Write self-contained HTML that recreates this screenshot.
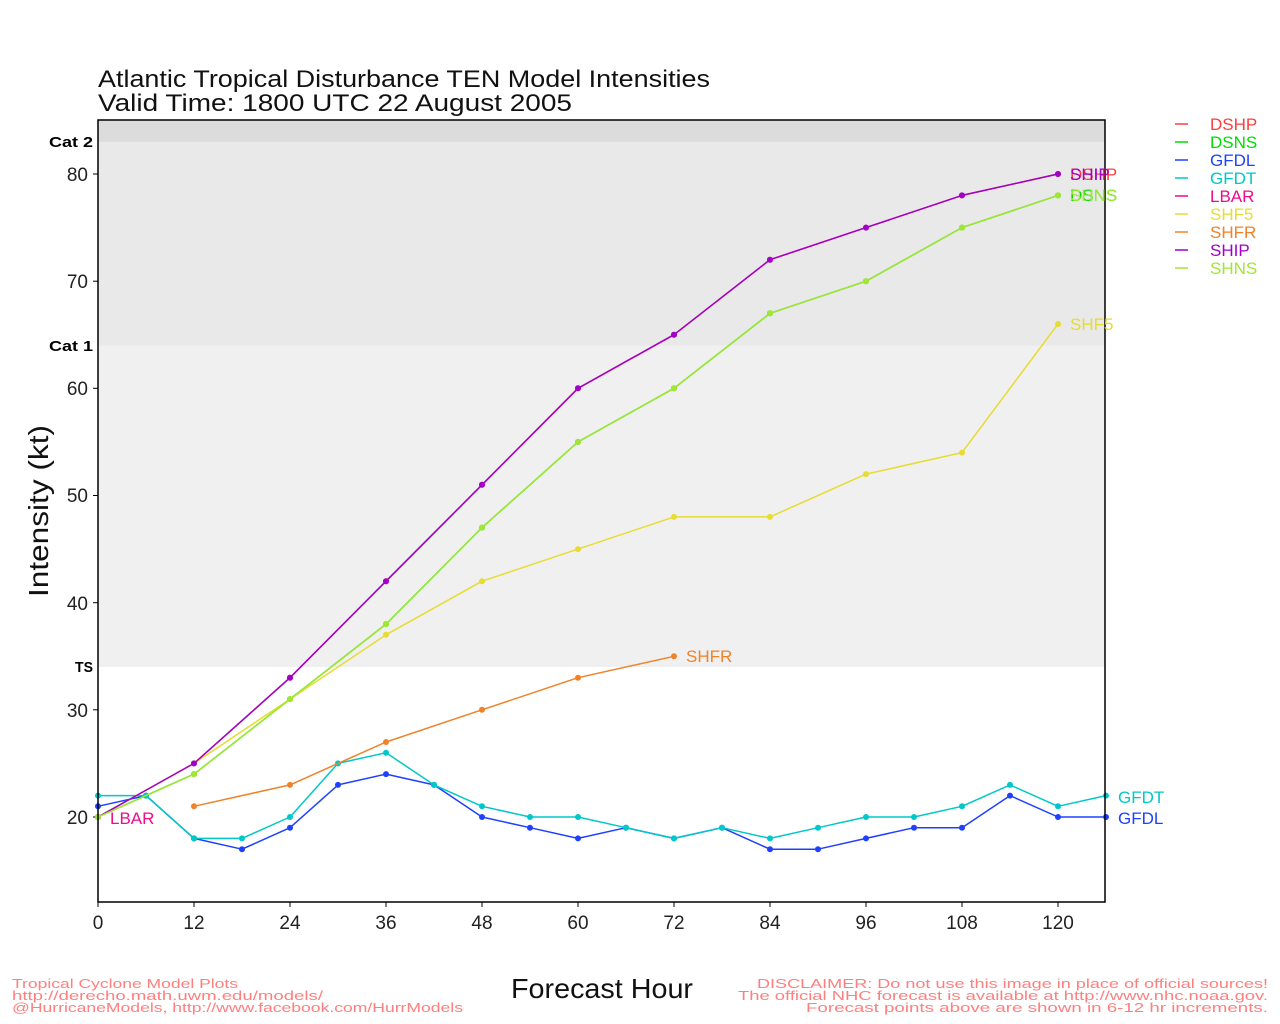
<!DOCTYPE html>
<html><head><meta charset="utf-8"><style>
html,body{margin:0;padding:0;background:#fff;}
svg{display:block;}
text{font-family:"Liberation Sans",sans-serif;}
</style></head><body>
<svg width="1280" height="1024" viewBox="0 0 1280 1024" xmlns="http://www.w3.org/2000/svg">
<defs>
<marker id="mR" markerUnits="userSpaceOnUse" markerWidth="8" markerHeight="8" refX="4" refY="4"><circle cx="4" cy="4" r="3" fill="#ff3c3c"/></marker>
<marker id="mG" markerUnits="userSpaceOnUse" markerWidth="8" markerHeight="8" refX="4" refY="4"><circle cx="4" cy="4" r="3" fill="#00dc00"/></marker>
<marker id="mB" markerUnits="userSpaceOnUse" markerWidth="8" markerHeight="8" refX="4" refY="4"><circle cx="4" cy="4" r="3" fill="#2040ff"/></marker>
<marker id="mC" markerUnits="userSpaceOnUse" markerWidth="8" markerHeight="8" refX="4" refY="4"><circle cx="4" cy="4" r="3" fill="#00c8c8"/></marker>
<marker id="mM" markerUnits="userSpaceOnUse" markerWidth="8" markerHeight="8" refX="4" refY="4"><circle cx="4" cy="4" r="3" fill="#f00a8c"/></marker>
<marker id="mY" markerUnits="userSpaceOnUse" markerWidth="8" markerHeight="8" refX="4" refY="4"><circle cx="4" cy="4" r="3" fill="#e6dc32"/></marker>
<marker id="mO" markerUnits="userSpaceOnUse" markerWidth="8" markerHeight="8" refX="4" refY="4"><circle cx="4" cy="4" r="3" fill="#f08228"/></marker>
<marker id="mP" markerUnits="userSpaceOnUse" markerWidth="8" markerHeight="8" refX="4" refY="4"><circle cx="4" cy="4" r="3" fill="#a000c8"/></marker>
<marker id="mL" markerUnits="userSpaceOnUse" markerWidth="8" markerHeight="8" refX="4" refY="4"><circle cx="4" cy="4" r="3" fill="#a0e632"/></marker>
</defs>

<!-- Title -->
<text x="98" y="87" font-size="24" fill="#111" textLength="612" lengthAdjust="spacingAndGlyphs">Atlantic Tropical Disturbance TEN Model Intensities</text>
<text x="98" y="111" font-size="24" fill="#111" textLength="474" lengthAdjust="spacingAndGlyphs">Valid Time: 1800 UTC 22 August 2005</text>

<!-- Bands -->
<rect x="98" y="120" width="1007" height="22" fill="#dcdcdc"/>
<rect x="98" y="141.8" width="1007" height="203.7" fill="#e9e9e9"/>
<rect x="98" y="345.5" width="1007" height="321.5" fill="#f0f0f0"/>
<rect x="98" y="667" width="1007" height="235" fill="#ffffff"/>

<!-- Category labels -->
<g font-size="15" font-weight="bold" fill="#000">
<text x="49" y="147" textLength="44" lengthAdjust="spacingAndGlyphs">Cat 2</text>
<text x="49" y="351" textLength="44" lengthAdjust="spacingAndGlyphs">Cat 1</text>
<text x="75" y="672" textLength="18" lengthAdjust="spacingAndGlyphs">TS</text>
</g>

<!-- Y ticks -->
<g stroke="#000" stroke-width="1">
<line x1="93" y1="174" x2="98" y2="174"/>
<line x1="93" y1="281.2" x2="98" y2="281.2"/>
<line x1="93" y1="388.3" x2="98" y2="388.3"/>
<line x1="93" y1="495.5" x2="98" y2="495.5"/>
<line x1="93" y1="602.7" x2="98" y2="602.7"/>
<line x1="93" y1="709.8" x2="98" y2="709.8"/>
<line x1="93" y1="817" x2="98" y2="817"/>
</g>
<g font-size="19" fill="#222" text-anchor="end">
<text x="88" y="181">80</text>
<text x="88" y="288">70</text>
<text x="88" y="395">60</text>
<text x="88" y="502">50</text>
<text x="88" y="610">40</text>
<text x="88" y="717">30</text>
<text x="88" y="824">20</text>
</g>

<!-- X ticks -->
<g stroke="#000" stroke-width="1">
<line x1="98" y1="902" x2="98" y2="907"/>
<line x1="194" y1="902" x2="194" y2="907"/>
<line x1="290" y1="902" x2="290" y2="907"/>
<line x1="386" y1="902" x2="386" y2="907"/>
<line x1="482" y1="902" x2="482" y2="907"/>
<line x1="578" y1="902" x2="578" y2="907"/>
<line x1="674" y1="902" x2="674" y2="907"/>
<line x1="770" y1="902" x2="770" y2="907"/>
<line x1="866" y1="902" x2="866" y2="907"/>
<line x1="962" y1="902" x2="962" y2="907"/>
<line x1="1058" y1="902" x2="1058" y2="907"/>
</g>
<g font-size="19" fill="#222" text-anchor="middle">
<text x="98" y="929">0</text>
<text x="194" y="929">12</text>
<text x="290" y="929">24</text>
<text x="386" y="929">36</text>
<text x="482" y="929">48</text>
<text x="578" y="929">60</text>
<text x="674" y="929">72</text>
<text x="770" y="929">84</text>
<text x="866" y="929">96</text>
<text x="962" y="929">108</text>
<text x="1058" y="929">120</text>
</g>

<!-- Axis titles -->
<text x="511" y="998" font-size="28" fill="#111" textLength="182" lengthAdjust="spacingAndGlyphs">Forecast Hour</text>
<text transform="translate(48,511) rotate(-90)" x="0" y="0" font-size="28" fill="#111" text-anchor="middle" textLength="172" lengthAdjust="spacingAndGlyphs">Intensity (kt)</text>

<!-- Series -->
<g fill="none" stroke-width="1.5" stroke-linejoin="round">
<polyline stroke="#ff3c3c" marker-start="url(#mR)" marker-mid="url(#mR)" marker-end="url(#mR)" points="98,817 194,763.4 290,677.7 386,581.2 482,484.8 578,388.3 674,334.7 770,259.7 866,227.6 962,195.4 1058,174"/>
<polyline stroke="#00dc00" marker-start="url(#mG)" marker-mid="url(#mG)" marker-end="url(#mG)" points="98,817 194,774.1 290,699.1 386,624.1 482,527.6 578,441.9 674,388.3 770,313.3 866,281.2 962,227.6 1058,195.4"/>
<polyline stroke="#2040ff" marker-start="url(#mB)" marker-mid="url(#mB)" marker-end="url(#mB)" points="98,806.3 146,795.6 194,838.4 242,849.2 290,827.7 338,784.9 386,774.1 434,784.9 482,817 530,827.7 578,838.4 626,827.7 674,838.4 722,827.7 770,849.2 818,849.2 866,838.4 914,827.7 962,827.7 1010,795.6 1058,817 1106,817"/>
<polyline stroke="#00c8c8" marker-start="url(#mC)" marker-mid="url(#mC)" marker-end="url(#mC)" points="98,795.6 146,795.6 194,838.4 242,838.4 290,817 338,763.4 386,752.7 434,784.9 482,806.3 530,817 578,817 626,827.7 674,838.4 722,827.7 770,838.4 818,827.7 866,817 914,817 962,806.3 1010,784.9 1058,806.3 1106,795.6"/>
<circle cx="98" cy="817" r="3" fill="#f00a8c"/>
<polyline stroke="#e6dc32" marker-start="url(#mY)" marker-mid="url(#mY)" marker-end="url(#mY)" points="98,817 194,763.4 290,699.1 386,634.8 482,581.2 578,549.1 674,516.9 770,516.9 866,474.1 962,452.6 1058,324"/>
<polyline stroke="#f08228" marker-start="url(#mO)" marker-mid="url(#mO)" marker-end="url(#mO)" points="194,806.3 290,784.9 386,742 482,709.8 578,677.7 674,656.3"/>
<polyline stroke="#a000c8" marker-start="url(#mP)" marker-mid="url(#mP)" marker-end="url(#mP)" points="98,817 194,763.4 290,677.7 386,581.2 482,484.8 578,388.3 674,334.7 770,259.7 866,227.6 962,195.4 1058,174"/>
<polyline stroke="#a0e632" marker-start="url(#mL)" marker-mid="url(#mL)" marker-end="url(#mL)" points="98,817 194,774.1 290,699.1 386,624.1 482,527.6 578,441.9 674,388.3 770,313.3 866,281.2 962,227.6 1058,195.4"/>
</g>

<!-- Plot border -->
<rect x="98" y="120" width="1007" height="782" fill="none" stroke="#000" stroke-width="1.5"/>

<!-- End labels -->
<g font-size="17">
<text x="1070" y="180" fill="#ff3c3c">DSHP</text>
<text x="1070" y="201" fill="#00dc00">DSNS</text>
<text x="1118" y="824" fill="#2040ff">GFDL</text>
<text x="1118" y="803" fill="#00c8c8">GFDT</text>
<text x="110" y="824" fill="#f00a8c">LBAR</text>
<text x="1070" y="330" fill="#e6dc32">SHF5</text>
<text x="686" y="662" fill="#f08228">SHFR</text>
<text x="1070" y="180" fill="#a000c8">SHIP</text>
<text x="1070" y="201" fill="#a0e632">SHNS</text>
</g>

<!-- Legend -->
<g stroke-width="1.5">
<line x1="1175" y1="124" x2="1188" y2="124" stroke="#ff3c3c"/>
<line x1="1175" y1="142" x2="1188" y2="142" stroke="#00dc00"/>
<line x1="1175" y1="160" x2="1188" y2="160" stroke="#2040ff"/>
<line x1="1175" y1="178" x2="1188" y2="178" stroke="#00c8c8"/>
<line x1="1175" y1="196" x2="1188" y2="196" stroke="#f00a8c"/>
<line x1="1175" y1="214" x2="1188" y2="214" stroke="#e6dc32"/>
<line x1="1175" y1="232" x2="1188" y2="232" stroke="#f08228"/>
<line x1="1175" y1="250" x2="1188" y2="250" stroke="#a000c8"/>
<line x1="1175" y1="268" x2="1188" y2="268" stroke="#a0e632"/>
</g>
<g font-size="17">
<text x="1210" y="130" fill="#ff3c3c">DSHP</text>
<text x="1210" y="148" fill="#00dc00">DSNS</text>
<text x="1210" y="166" fill="#2040ff">GFDL</text>
<text x="1210" y="184" fill="#00c8c8">GFDT</text>
<text x="1210" y="202" fill="#f00a8c">LBAR</text>
<text x="1210" y="220" fill="#e6dc32">SHF5</text>
<text x="1210" y="238" fill="#f08228">SHFR</text>
<text x="1210" y="256" fill="#a000c8">SHIP</text>
<text x="1210" y="274" fill="#a0e632">SHNS</text>
</g>

<!-- Footers -->
<g font-size="13" fill="#ff7f7f">
<text x="12" y="988" textLength="226" lengthAdjust="spacingAndGlyphs">Tropical Cyclone Model Plots</text>
<text x="12" y="1000" textLength="311" lengthAdjust="spacingAndGlyphs">http://derecho.math.uwm.edu/models/</text>
<text x="12" y="1012" textLength="451" lengthAdjust="spacingAndGlyphs">@HurricaneModels, http://www.facebook.com/HurrModels</text>
<text x="757" y="988" textLength="511" lengthAdjust="spacingAndGlyphs">DISCLAIMER: Do not use this image in place of official sources!</text>
<text x="738" y="1000" textLength="530" lengthAdjust="spacingAndGlyphs">The official NHC forecast is available at http://www.nhc.noaa.gov.</text>
<text x="806" y="1012" textLength="462" lengthAdjust="spacingAndGlyphs">Forecast points above are shown in 6-12 hr increments.</text>
</g>
</svg>
</body></html>
